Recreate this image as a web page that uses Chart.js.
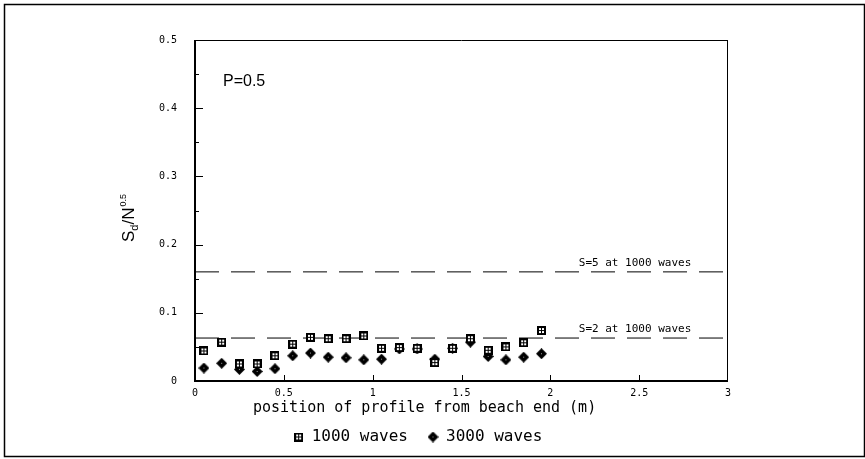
<!DOCTYPE html>
<html>
<head>
<meta charset="utf-8">
<script src="https://cdn.jsdelivr.net/npm/chart.js@4.4.1/dist/chart.umd.min.js"></script>
<style>
  body { margin: 0; background: #fff; }
  canvas { display: block; }
</style>
</head>
<body>
<canvas id="chart" width="865" height="459"></canvas>
<script>
// profile positions along the beach (m)
const positions = [0.05, 0.15, 0.25, 0.35, 0.45, 0.55, 0.65, 0.75, 0.85, 0.95,
                   1.05, 1.15, 1.25, 1.35, 1.45, 1.55, 1.65, 1.75, 1.85, 1.95];
const waves1000 = [0.044, 0.057, 0.025, 0.025, 0.037, 0.054, 0.064, 0.062, 0.062, 0.066,
                   0.048, 0.049, 0.048, 0.027, 0.048, 0.062, 0.045, 0.050, 0.056, 0.074];
const waves3000 = [0.019, 0.026, 0.017, 0.014, 0.018, 0.037, 0.041, 0.035, 0.034, 0.031,
                   0.032, 0.047, 0.047, 0.032, 0.048, 0.057, 0.036, 0.031, 0.035, 0.040];
const refLevels = [0.16, 0.063];
const refLabels = ["S=5 at 1000 waves", "S=2 at 1000 waves"];
const xRange = [0, 3];
const yRange = [0, 0.5];

const mono = "'DejaVu Sans Mono', monospace";
const sans = "'Liberation Sans', Arial, sans-serif";

// marker: square with white dots
function squareMarker() {
    const c = document.createElement("canvas");
    c.width = 9; c.height = 9;
    const g = c.getContext("2d");
    g.fillStyle = "#000";
    g.fillRect(0, 0, 9, 9);
    g.fillStyle = "#fff";
    [[2, 2], [5, 2], [2, 5], [5, 5]].forEach(p => g.fillRect(p[0], p[1], 2, 2));
    return c;
}

// marker: filled diamond with light centre
function diamondMarker() {
    const c = document.createElement("canvas");
    c.width = 11; c.height = 11;
    const g = c.getContext("2d");
    g.fillStyle = "#000";
    g.beginPath();
    g.moveTo(5.5, 0); g.lineTo(11, 5.5); g.lineTo(5.5, 11); g.lineTo(0, 5.5);
    g.closePath();
    g.fill();
    g.fillStyle = "#999";
    g.fillRect(5, 5, 1, 1);
    return c;
}

function refLine(level) {
    return {
        type: "line",
        data: xRange.map(v => ({ x: v, y: level })),
        borderColor: "#000",
        borderWidth: 1,
        borderDash: [24, 12],
        pointRadius: 0,
        fill: false
    };
}

const decor = {
    id: "decor",
    afterLayout(chart) {
        // legend sits off-centre in the original
        chart.legend.left += 54;
        chart.legend.right += 54;
    },
    afterDraw(chart) {
        const { ctx, chartArea: a, scales: { x, y } } = chart;
        ctx.save();
        ctx.strokeStyle = "#000";

        // outer frame
        ctx.lineWidth = 1.5;
        ctx.strokeRect(4.5, 4.5, 860, 452);

        // plot box
        ctx.lineWidth = 1;
        ctx.beginPath();
        ctx.moveTo(a.left, a.top + 0.5); ctx.lineTo(a.right, a.top + 0.5);
        ctx.moveTo(a.right - 0.5, a.top); ctx.lineTo(a.right - 0.5, a.bottom);
        ctx.stroke();
        ctx.lineWidth = 2;
        ctx.beginPath();
        ctx.moveTo(a.left, a.top); ctx.lineTo(a.left, a.bottom);
        ctx.lineTo(a.right, a.bottom);
        ctx.stroke();

        // inward ticks
        ctx.lineWidth = 1;
        ctx.beginPath();
        for (let v = 0.05; v < yRange[1]; v += 0.05) {
            const py = Math.round(y.getPixelForValue(v)) + 0.5;
            const major = Math.abs(v * 10 - Math.round(v * 10)) < 1e-6;
            ctx.moveTo(a.left, py); ctx.lineTo(a.left + (major ? 8 : 4), py);
        }
        for (let v = 0.5; v < xRange[1]; v += 0.5) {
            const px = Math.round(x.getPixelForValue(v)) + 0.5;
            ctx.moveTo(px, a.bottom); ctx.lineTo(px, a.bottom - 6);
        }
        ctx.stroke();

        // y axis title  S_d / N^0.5
        ctx.fillStyle = "#000";
        ctx.translate(134, 242);
        ctx.rotate(-Math.PI / 2);
        ctx.textBaseline = "alphabetic";
        ctx.textAlign = "left";
        let cx = 0;
        ctx.font = "17px " + sans;
        ctx.fillText("S", cx, 0); cx += ctx.measureText("S").width;
        ctx.font = "11px " + sans;
        ctx.fillText("d", cx, 4); cx += ctx.measureText("d").width;
        ctx.font = "17px " + sans;
        ctx.fillText("/N", cx, 0); cx += ctx.measureText("/N").width;
        ctx.font = "9px " + sans;
        ctx.fillText("0.5", cx + 1, -8);
        ctx.setTransform(1, 0, 0, 1, 0, 0);

        // x axis title
        ctx.font = "15px " + mono;
        ctx.textBaseline = "middle";
        ctx.fillText("position of profile from beach end (m)", 253, 408);

        // annotation text
        ctx.textBaseline = "alphabetic";
        ctx.font = "16px " + sans;
        ctx.fillText("P=0.5", 223, 86);
        ctx.font = "11px " + mono;
        refLevels.forEach((lv, i) => {
            ctx.fillText(refLabels[i], x.getPixelForValue(2.16), y.getPixelForValue(lv) - 6);
        });
        ctx.restore();
    }
};

new Chart(document.getElementById("chart"), {
    type: "scatter",
    data: {
        datasets: [
            { label: "1000 waves", data: positions.map((p, i) => ({ x: p, y: waves1000[i] })),
              pointStyle: squareMarker(), backgroundColor: "#000", borderColor: "#000" },
            { label: "3000 waves", data: positions.map((p, i) => ({ x: p, y: waves3000[i] })),
              pointStyle: diamondMarker(), backgroundColor: "#000", borderColor: "#000" },
            refLine(refLevels[0]),
            refLine(refLevels[1])
        ]
    },
    options: {
        responsive: false,
        animation: false,
        devicePixelRatio: 1,
        layout: { padding: { left: 0, right: 137, top: 40, bottom: 4 } },
        scales: {
            x: {
                type: "linear", min: xRange[0], max: xRange[1],
                grid: { display: false }, border: { display: false },
                ticks: { stepSize: 0.5, color: "#000", padding: -2, maxRotation: 0,
                         font: { family: mono, size: 10 },
                         callback: v => String(v) },
                afterFit: s => { s.height = 28; }
            },
            y: {
                min: yRange[0], max: yRange[1],
                grid: { display: false }, border: { display: false },
                ticks: { stepSize: 0.1, color: "#000", padding: 10,
                         font: { family: mono, size: 10 },
                         callback: v => String(Math.round(v * 10) / 10) },
                afterFit: s => { s.width = 195; }
            }
        },
        plugins: {
            legend: {
                position: "bottom",
                labels: {
                    usePointStyle: true, boxWidth: 10, padding: 20, color: "#000",
                    font: { family: mono, size: 16 },
                    filter: item => item.datasetIndex < 2
                }
            },
            tooltip: { enabled: false }
        }
    },
    plugins: [decor]
});
</script>
</body>
</html>
